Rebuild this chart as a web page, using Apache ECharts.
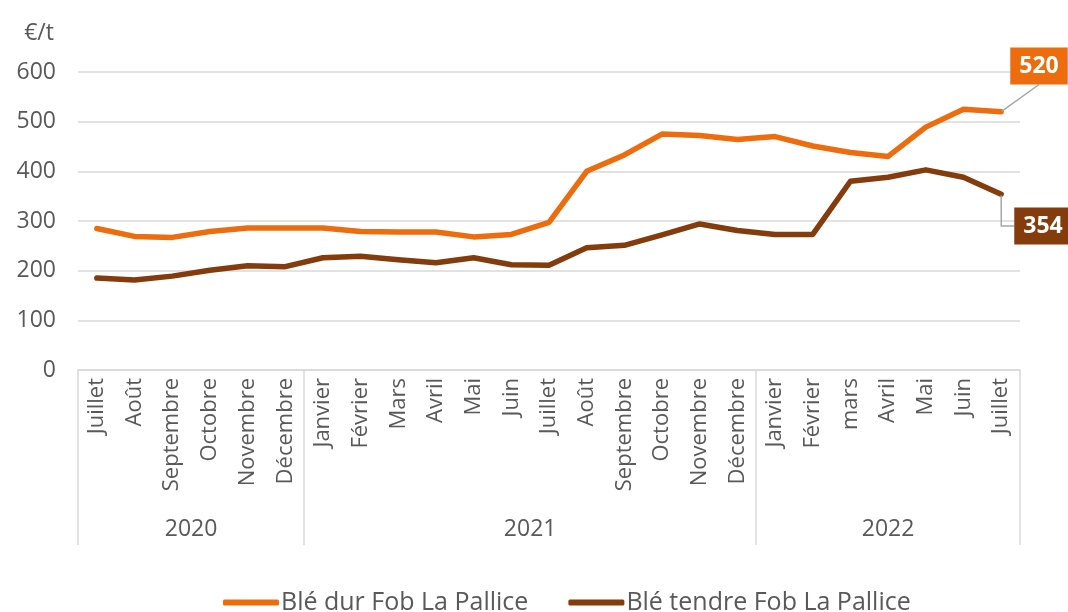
<!DOCTYPE html>
<html>
<head>
<meta charset="utf-8">
<script src="https://cdn.jsdelivr.net/npm/echarts@6/dist/echarts.min.js"></script>
<style>
  html, body { margin: 0; padding: 0; background: #fff; }
  #chart { width: 1068px; height: 612px; }
</style>
</head>
<body>
<div id="chart"></div>
<script>
// Categories (Juillet 2020 -> Juillet 2022)
const months = ['Juillet', 'Août', 'Septembre', 'Octobre', 'Novembre', 'Décembre',
    'Janvier', 'Février', 'Mars', 'Avril', 'Mai', 'Juin', 'Juillet', 'Août', 'Septembre',
    'Octobre', 'Novembre', 'Décembre',
    'Janvier', 'Février', 'mars', 'Avril', 'Mai', 'Juin', 'Juillet'];
const years = ['2020', '2021', '2022'];
const monthsPerYear = [6, 12, 7];

// Series values (€/t)
const bleDur = [285, 269, 267, 279, 286, 286, 286, 279, 278, 278, 268, 273, 297,
    400, 433, 475, 472, 464, 470, 451, 438, 430, 489, 525, 520];
const bleTendre = [185, 181, 189, 201, 210, 208, 226, 229, 222, 216, 226, 212, 211,
    246, 251, 272, 294, 281, 273, 273, 380, 388, 403, 388, 354];

const yTicks = [0, 100, 200, 300, 400, 500, 600];

const ORANGE = '#EC6C0E';
const BROWN = '#843C0C';
const TEXT = '#595959';
const GRID = '#D9D9D9';
const FONT = 'Open Sans';

// group boundaries and label centres for the year row
const yearBounds = [0];
const yearCenters = [];
monthsPerYear.forEach((n, i) => {
    yearCenters.push(yearBounds[i] + n / 2);
    yearBounds.push(yearBounds[i] + n);
});

// only the last point gets a boxed value label
function withLastLabel(values, color) {
    return values.map((v, i) => {
        if (i !== values.length - 1) return v;
        return {
            value: v,
            symbol: 'circle',
            symbolSize: 2,
            label: {
                show: true,
                formatter: '{c}',
                color: '#fff',
                fontFamily: FONT,
                fontWeight: 'bold',
                fontSize: 23,
                backgroundColor: color,
                padding: [8, 9, 6, 9]
            }
        };
    });
}

const chart = echarts.init(document.getElementById('chart'));

const option = {
    animation: false,
    textStyle: { fontFamily: FONT },
    grid: { left: 78, right: 48, top: 72, bottom: 242, containLabel: false },
    legend: {
        top: 585,
        left: 218,
        itemWidth: 56,
        itemHeight: 6,
        itemGap: 40,
        icon: 'roundRect',
        textStyle: { color: TEXT, fontSize: 25, fontFamily: FONT, padding: [0, 0, 0, -3] },
        data: ['Blé dur Fob La Pallice', 'Blé tendre Fob La Pallice']
    },
    xAxis: [{
        type: 'category',
        data: months,
        boundaryGap: true,
        axisLine: { lineStyle: { color: GRID, width: 1.5 } },
        axisTick: { show: false },
        axisLabel: {
            rotate: 90,
            interval: 0,
            margin: 8,
            color: TEXT,
            fontSize: 22,
            fontFamily: FONT
        }
    }, {
        type: 'value',
        position: 'bottom',
        min: 0,
        max: months.length,
        axisLine: { show: false },
        splitLine: { show: false },
        axisTick: {
            show: true,
            customValues: yearBounds,
            length: 175,
            lineStyle: { color: GRID, width: 1.5 }
        },
        axisLabel: {
            customValues: yearCenters,
            formatter: (v) => years[yearCenters.indexOf(v)] || '',
            margin: 148,
            color: TEXT,
            fontSize: 23,
            fontFamily: FONT
        }
    }],
    yAxis: {
        type: 'value',
        min: yTicks[0],
        max: yTicks[yTicks.length - 1],
        interval: 100,
        name: '€/t',
        nameLocation: 'end',
        nameGap: 27,
        nameTextStyle: { color: TEXT, fontSize: 23, fontFamily: FONT, align: 'right', padding: [0, 24, 0, 0] },
        axisLine: { show: false },
        axisTick: { show: false },
        axisLabel: { color: TEXT, fontSize: 23, fontFamily: FONT, margin: 22 },
        splitLine: { lineStyle: { color: GRID, width: 1.5 } }
    },
    series: [{
        name: 'Blé dur Fob La Pallice',
        type: 'line',
        xAxisIndex: 0,
        symbol: 'none',
        color: ORANGE,
        lineStyle: { width: 5.5, color: ORANGE, cap: 'round', join: 'round' },
        labelLine: { show: true, lineStyle: { color: '#A6A6A6', width: 1.5 } },
        labelLayout: { x: 1039, y: 66, align: 'center', verticalAlign: 'middle' },
        data: withLastLabel(bleDur, ORANGE)
    }, {
        name: 'Blé tendre Fob La Pallice',
        type: 'line',
        xAxisIndex: 0,
        symbol: 'none',
        color: BROWN,
        lineStyle: { width: 5.5, color: BROWN, cap: 'round', join: 'round' },
        labelLine: { show: true, length2: 13, lineStyle: { color: '#A6A6A6', width: 1.5 } },
        labelLayout: { x: 1043, y: 226, align: 'center', verticalAlign: 'middle' },
        data: withLastLabel(bleTendre, BROWN)
    }]
};

chart.setOption(option);
</script>
</body>
</html>
